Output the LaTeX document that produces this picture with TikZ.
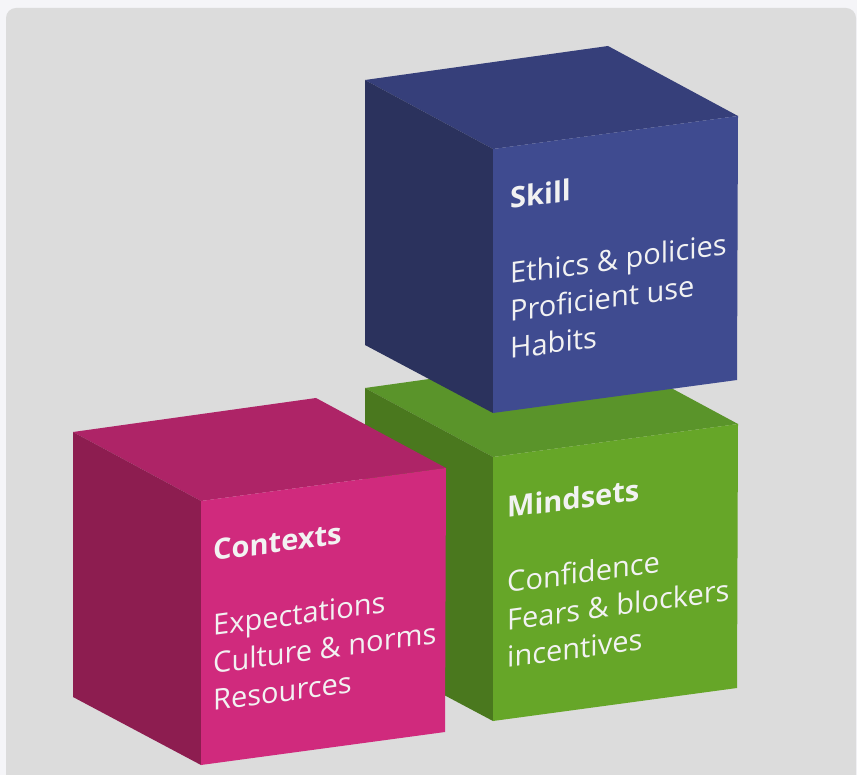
\documentclass[tikz,border=0pt]{standalone}
\usepackage{fontspec}
\setmainfont{Open Sans}
\definecolor{outerbg}{HTML}{F5F5F8}
\definecolor{panel}{HTML}{DCDCDC}
\definecolor{bluefront}{HTML}{3F4B90}
\definecolor{bluetop}{HTML}{363F7A}
\definecolor{blueleft}{HTML}{2B325D}
\definecolor{greenfront}{HTML}{66A628}
\definecolor{greentop}{HTML}{5A942A}
\definecolor{greenleft}{HTML}{4A781E}
\definecolor{pinkfront}{HTML}{D02A7D}
\definecolor{pinktop}{HTML}{AE2467}
\definecolor{pinkleft}{HTML}{8D1D50}
\definecolor{txt}{HTML}{F2F2F2}
\newcommand\drawcube[4]{%
  \begin{scope}[shift={#1}]
    \fill[#2] (0,0) -- (243,-34) -- (373,36) -- (128,69) -- cycle;
    \fill[#3] (0,0) -- (128,69) -- (128,333) -- (0,265) -- cycle;
    \fill[#4] (128,69) -- (373,36) -- (372,300) -- (128,333) -- cycle;
  \end{scope}}
\tikzset{cubetext/.style={text=txt, align=left, inner sep=0pt, anchor=base west,
  transform shape, font=\fontsize{29}{37.5}\selectfont}}
\begin{document}
\begin{tikzpicture}[x=1pt,y=-1pt]
\useasboundingbox (0,0) rectangle (857,775);
\fill[outerbg] (0,0) rectangle (857,775);
\fill[panel, rounded corners=10pt] (6,8) rectangle (856,800);
% Mindsets (green)
\drawcube{(365,388)}{greentop}{greenleft}{greenfront}
% Skill (blue)
\drawcube{(365,80)}{bluetop}{blueleft}{bluefront}
% Contexts (pink)
\drawcube{(73,432)}{pinktop}{pinkleft}{pinkfront}
\begin{scope}[shift={(510,359)}, yslant=0.135]
  \node[cubetext] (skill) at (0,0) {\textbf{Skill}\\[37.5pt]Ethics \& policies\\Proficient use\\Habits};
\end{scope}
\begin{scope}[shift={(507,668)}, yslant=0.135]
  \node[cubetext] (mindsets) at (0,0) {\textbf{Mindsets}\\[37.5pt]Confidence\\Fears \& blockers\\incentives};
\end{scope}
\begin{scope}[shift={(213,711)}, yslant=0.135]
  \node[cubetext] (contexts) at (0,0) {\textbf{Contexts}\\[37.5pt]Expectations\\Culture \& norms\\Resources};
\end{scope}
\end{tikzpicture}
\end{document}
